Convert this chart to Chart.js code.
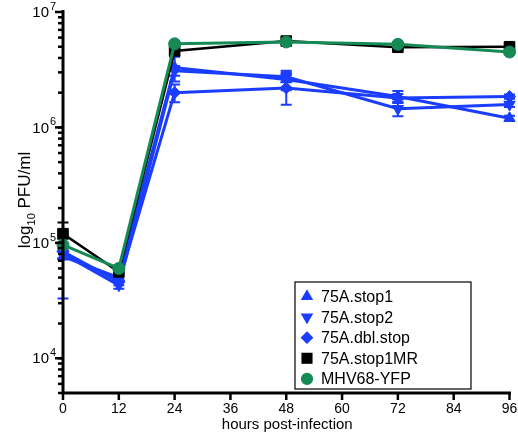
<!DOCTYPE html>
<html>
<head>
<meta charset="utf-8">
<script src="https://cdn.jsdelivr.net/npm/chart.js@4.4.1/dist/chart.umd.min.js"></script>
<style>
  html, body { margin: 0; padding: 0; background: #fff; }
  #wrap { width: 518px; height: 437px; }
</style>
</head>
<body>
<div id="wrap"><canvas id="growth"></canvas></div>
<script>
// hours post-infection
const hours = [0, 12, 24, 48, 72, 96];
const xTicks = [0, 12, 24, 36, 48, 60, 72, 84, 96];
const yMajor = [4, 5, 6, 7]; // exponents of 10

// titres (PFU/ml)
const stop1   = [76000, 50000, 3300000, 2600000, 1850000, 1200000];
const stop2   = [80000, 43000, 3100000, 2750000, 1450000, 1580000];
const dblStop = [84000, 46000, 2000000, 2200000, 1800000, 1850000];
const stop1MR = [120000, 56000, 4600000, 5600000, 4950000, 5000000];
const yfp     = [96000, 60000, 5300000, 5500000, 5250000, 4500000];

// error bars (+/- in PFU/ml)
const stop1Err   = [43000, 4000, 800000, 500000, 220000, 60000];
const stop2Err   = [8000, 3000, 300000, 250000, 200000, 80000];
const dblStopErr = [10000, 3000, 350000, 630000, 150000, 80000];
const stop1MRErr = [30000, 5000, 300000, 250000, 250000, 250000];
const yfpErr     = [12000, 4000, 200000, 200000, 200000, 200000];

const labels = ['75A.stop1', '75A.stop2', '75A.dbl.stop', '75A.stop1MR', 'MHV68-YFP'];
const blue = '#1a3dff', green = '#168a55', black = '#000000';

function series(label, vals, errs, color, style, radius, rot, order, lw) {
  return {
    label: label,
    data: vals.map((v, i) => ({ x: hours[i], y: v })),
    errs: errs,
    borderColor: color,
    backgroundColor: color,
    borderWidth: lw,
    pointStyle: style,
    pointRadius: radius,
    pointRotation: rot,
    pointBorderWidth: 1,
    order: order,
    clip: false,
    tension: 0
  };
}

const datasets = [
  series(labels[0], stop1, stop1Err, blue, 'triangle', 6.5, 0, 4, 3),
  series(labels[1], stop2, stop2Err, blue, 'triangle', 6.5, 180, 3, 3),
  series(labels[2], dblStop, dblStopErr, blue, 'rectRot', 6, 0, 2, 3),
  series(labels[3], stop1MR, stop1MRErr, black, 'rect', 7.5, 0, 1, 2.5),
  series(labels[4], yfp, yfpErr, green, 'circle', 6, 0, 0, 3)
];

const FONT = '"Liberation Sans", Arial, sans-serif';

// error bars drawn under the markers
const errorBars = {
  id: 'errorBars',
  beforeDatasetsDraw(chart) {
    const ctx = chart.ctx, xs = chart.scales.x, ys = chart.scales.y;
    ctx.save();
    chart.data.datasets.slice().reverse().forEach(ds => {
      ctx.strokeStyle = ds.borderColor;
      ctx.lineWidth = 2;
      ds.data.forEach((p, i) => {
        const e = ds.errs[i];
        const x = xs.getPixelForValue(p.x);
        const top = ys.getPixelForValue(p.y + e);
        const bot = ys.getPixelForValue(Math.max(p.y - e, 1));
        ctx.beginPath();
        ctx.moveTo(x, top); ctx.lineTo(x, bot);
        ctx.moveTo(x - 5.5, top); ctx.lineTo(x + 5.5, top);
        ctx.moveTo(x - 5.5, bot); ctx.lineTo(x + 5.5, bot);
        ctx.stroke();
      });
    });
    ctx.restore();
  }
};

// axes, tick labels, titles, legend
const frame = {
  id: 'frame',
  afterDraw(chart) {
    const ctx = chart.ctx, xs = chart.scales.x, ys = chart.scales.y;
    const area = chart.chartArea;
    ctx.save();
    ctx.strokeStyle = '#000';
    ctx.fillStyle = '#000';

    // axis lines
    ctx.lineWidth = 3;
    ctx.beginPath();
    ctx.moveTo(area.left, area.top - 2);
    ctx.lineTo(area.left, area.bottom);
    ctx.lineTo(area.right + 1.5, area.bottom);
    ctx.stroke();

    // y ticks: majors and minors
    ctx.lineWidth = 2.5;
    for (let e = 3; e <= 6; e++) {
      for (let m = 1; m <= 9; m++) {
        const v = m * Math.pow(10, e);
        if (v < ys.min || v > ys.max) continue;
        const y = ys.getPixelForValue(v);
        ctx.beginPath();
        ctx.moveTo(area.left - 5, y); ctx.lineTo(area.left, y);
        ctx.stroke();
      }
    }
    yMajor.forEach(e => {
      const y = ys.getPixelForValue(Math.pow(10, e));
      ctx.beginPath();
      ctx.moveTo(area.left - 8, y); ctx.lineTo(area.left, y);
      ctx.stroke();
      ctx.font = '15px ' + FONT;
      ctx.textAlign = 'right';
      ctx.textBaseline = 'middle';
      ctx.fillText('10', area.left - 14, y + 1);
      ctx.font = '11px ' + FONT;
      ctx.textAlign = 'left';
      ctx.fillText(String(e), area.left - 13, y - 5);
    });

    // x ticks
    ctx.font = '14px ' + FONT;
    ctx.textAlign = 'center';
    ctx.textBaseline = 'top';
    xTicks.forEach(t => {
      const x = xs.getPixelForValue(t);
      ctx.beginPath();
      ctx.moveTo(x, area.bottom); ctx.lineTo(x, area.bottom + 7);
      ctx.stroke();
      ctx.fillText(String(t), x, area.bottom + 9);
    });
    ctx.font = '15px ' + FONT;
    ctx.fillText('hours post-infection', (area.left + area.right) / 2 + 1, area.bottom + 24);

    // y title with subscript
    ctx.translate(24, 200);
    ctx.rotate(-Math.PI / 2);
    ctx.textBaseline = 'alphabetic';
    ctx.textAlign = 'left';
    const parts = [['log', 17, 0], ['10', 11, 5], [' PFU/ml', 17, 0]];
    let total = 0;
    parts.forEach(p => { ctx.font = p[1] + 'px ' + FONT; total += ctx.measureText(p[0]).width; });
    let px = -total / 2;
    parts.forEach(p => {
      ctx.font = p[1] + 'px ' + FONT;
      ctx.fillText(p[0], px, 6 + p[2]);
      px += ctx.measureText(p[0]).width;
    });
    ctx.setTransform(1, 0, 0, 1, 0, 0);

    // legend box
    const lx = 295, ly = 282, lw = 176, lh = 107;
    ctx.fillStyle = '#fff';
    ctx.fillRect(lx, ly, lw, lh);
    ctx.lineWidth = 1.2;
    ctx.strokeStyle = '#000';
    ctx.strokeRect(lx, ly, lw, lh);
    ctx.font = '16px ' + FONT;
    ctx.textAlign = 'left';
    ctx.textBaseline = 'middle';
    chart.data.datasets.forEach((ds, i) => {
      const y = ly + 14.5 + i * 20.6;
      ctx.fillStyle = ds.backgroundColor;
      ctx.strokeStyle = ds.borderColor;
      Chart.helpers.drawPoint(ctx, {
        pointStyle: ds.pointStyle,
        rotation: ds.pointRotation,
        radius: ds.pointStyle === 'rect' ? 7 : (ds.pointStyle === 'triangle' ? 6 : 5.5),
        borderWidth: 1
      }, 307, y);
      ctx.fillStyle = '#000';
      ctx.fillText(ds.label, 321, y + 1);
    });
    ctx.restore();
  }
};

new Chart(document.getElementById('growth'), {
  type: 'line',
  data: { datasets: datasets },
  options: {
    responsive: true,
    maintainAspectRatio: false,
    animation: false,
    layout: { padding: { left: 63, right: 6, top: 12, bottom: 44 } },
    scales: {
      x: { type: 'linear', min: 0, max: 96, display: false },
      y: { type: 'logarithmic', min: 5000, max: 10000000, display: false }
    },
    plugins: {
      legend: { display: false },
      tooltip: { enabled: false }
    }
  },
  plugins: [errorBars, frame]
});
</script>
</body>
</html>
